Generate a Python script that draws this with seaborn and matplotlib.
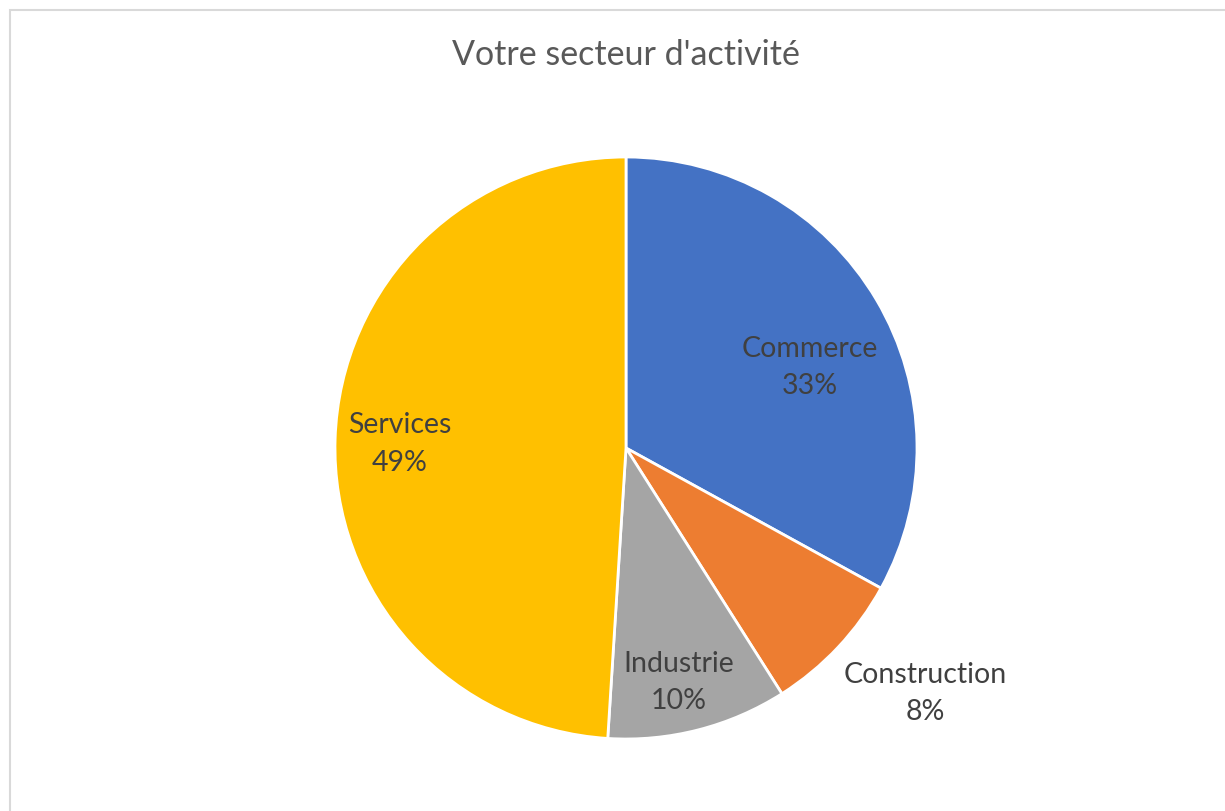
import numpy as np
import seaborn as sns
import matplotlib.pyplot as plt
from matplotlib.patches import Rectangle

# donnees du graphique
secteurs = ["Commerce", "Construction", "Industrie", "Services"]
parts = [33, 8, 10, 49]
couleurs = ["#4472C4", "#ED7D31", "#A5A5A5", "#FFC000"]
titre = "Votre secteur d'activité"

sns.set_theme(style="white")
plt.rcParams["font.family"] = ["Lato", "DejaVu Sans"]

fig = plt.figure(figsize=(12.25, 8.11), dpi=100)

# cadre gris autour du graphique
fig.patches.append(Rectangle((10 / 1225, -0.05), 1.1, (811 - 10) / 811 + 0.05,
                             transform=fig.transFigure, fill=False,
                             edgecolor="#D9D9D9", linewidth=1.5))

cx, cy, r = 626, 448, 291
ax = fig.add_axes([(cx - r) / 1225, (811 - cy - r) / 811, 2 * r / 1225, 2 * r / 811])

wedges, _ = ax.pie(parts, colors=couleurs, startangle=90, counterclock=False,
                   radius=1, wedgeprops={"edgecolor": "white", "linewidth": 2})

# position des etiquettes : distance depuis le centre et petit decalage d'angle
distances = [0.69, 1.33, 0.825, 0.777]
decalages = [-7, 3.8, -1.8, 0.8]
for w, nom, p, d, da in zip(wedges, secteurs, parts, distances, decalages):
    ang = np.deg2rad((w.theta1 + w.theta2) / 2 + da)
    x, y = d * np.cos(ang), d * np.sin(ang)
    ax.text(x, y, f"{nom}\n{p}%", ha="center", va="center",
            fontsize=20.5, color="#404040", linespacing=1.55)

ax.set_xlim(-1, 1)
ax.set_ylim(-1, 1)
ax.set_aspect("equal")
ax.axis("off")

fig.text(626 / 1225, 1 - 55 / 811, titre, ha="center", va="center",
         fontsize=24.5, color="#595959")

fig.savefig("out.png", dpi=100)
